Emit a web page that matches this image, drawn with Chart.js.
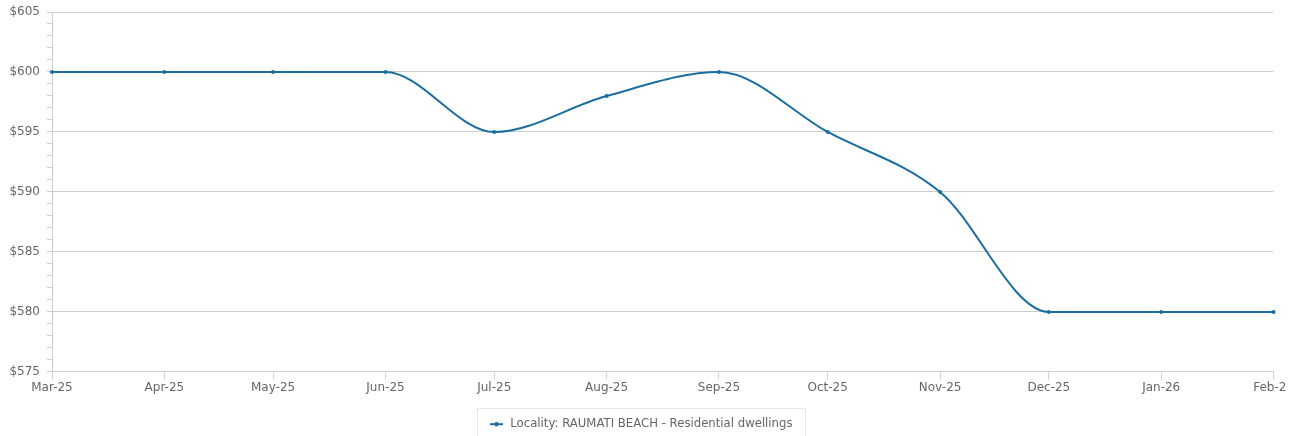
<!DOCTYPE html>
<html>
<head>
<meta charset="utf-8">
<script src="https://cdn.jsdelivr.net/npm/chart.js@4"></script>
<style>
  html, body { margin: 0; padding: 0; background: #fff; }
  #wrap { width: 1287px; height: 436px; overflow: hidden; position: relative; }
</style>
</head>
<body>
<div id="wrap"><canvas id="rentChart" width="1295" height="440" style="width:1295px;height:440px"></canvas></div>
<script>
// Données du graphique
const monthLabels = ['Mar-25', 'Apr-25', 'May-25', 'Jun-25', 'Jul-25', 'Aug-25', 'Sep-25', 'Oct-25', 'Nov-25', 'Dec-25', 'Jan-26', 'Feb-26'];
const monthDates = ['2025-03-01', '2025-04-01', '2025-05-01', '2025-06-01', '2025-07-01', '2025-08-01', '2025-09-01', '2025-10-01', '2025-11-01', '2025-12-01', '2026-01-01', '2026-02-01'];
const rentValues = [600, 600, 600, 600, 595, 598, 600, 595, 590, 580, 580, 580];
const seriesLabel = 'Locality: RAUMATI BEACH - Residential dwellings';
const yMin = 575;
const yMax = 605;

const lineColor = '#1b6e9f';
const textColor = '#666666';

// jours depuis l'epoch, pour un axe proportionnel au temps
const dayNums = monthDates.map(d => Date.parse(d + 'T00:00:00Z') / 86400000);
const points = dayNums.map((x, i) => ({ x: x, y: rentValues[i] }));

// Icône de légende : trait + point
function makeLegendIcon() {
    const c = document.createElement('canvas');
    c.width = 13;
    c.height = 6;
    const g = c.getContext('2d');
    g.strokeStyle = lineColor;
    g.lineWidth = 2;
    g.beginPath();
    g.moveTo(0, 3);
    g.lineTo(13, 3);
    g.stroke();
    g.fillStyle = lineColor;
    g.beginPath();
    g.arc(6.5, 3, 2.2, 0, Math.PI * 2);
    g.fill();
    return c;
}
const legendIcon = makeLegendIcon();

// Cadre autour de la légende
const legendBoxPlugin = {
    id: 'legendBox',
    afterDraw(chart) {
        const lg = chart.legend;
        if (!lg || !lg.legendHitBoxes || !lg.legendHitBoxes.length) return;
        const hb = lg.legendHitBoxes[0];
        const ctx = chart.ctx;
        ctx.save();
        ctx.strokeStyle = '#e6e6e6';
        ctx.lineWidth = 1;
        ctx.strokeRect(Math.round(hb.left - 11) + 0.5, Math.round(hb.top - 10) + 0.5, Math.round(hb.width + 24), 60);
        ctx.restore();
    }
};

Chart.defaults.font.family = '"DejaVu Sans", sans-serif';
Chart.defaults.font.size = 12;
Chart.defaults.color = textColor;

new Chart(document.getElementById('rentChart'), {
    type: 'line',
    data: {
        datasets: [{
            label: seriesLabel,
            data: points,
            borderColor: lineColor,
            backgroundColor: lineColor,
            borderWidth: 2,
            pointRadius: 2,
            pointHoverRadius: 3,
            pointBackgroundColor: lineColor,
            pointBorderWidth: 0,
            cubicInterpolationMode: 'monotone',
            fill: false,
            clip: false
        }]
    },
    options: {
        responsive: false,
        animation: false,
        layout: { padding: { top: 0, left: 0, right: 14, bottom: 0 } },
        scales: {
            x: {
                type: 'linear',
                min: dayNums[0],
                max: dayNums[dayNums.length - 1],
                afterBuildTicks: scale => {
                    scale.ticks = dayNums.map(v => ({ value: v }));
                },
                ticks: {
                    autoSkip: false,
                    maxRotation: 0,
                    padding: 1,
                    color: textColor,
                    callback: (v, i) => monthLabels[i]
                },
                grid: {
                    drawOnChartArea: false,
                    tickLength: 8,
                    tickColor: '#ccd6eb'
                },
                border: { color: '#cccccc' }
            },
            y: {
                min: yMin,
                max: yMax,
                afterFit: scale => {
                    scale.width = 52;
                    scale.paddingTop = 12;
                },
                ticks: {
                    stepSize: 1,
                    autoSkip: false,
                    padding: 7,
                    color: textColor,
                    callback: v => (v % 5 === 0 ? '$' + v : '')
                },
                grid: {
                    tickLength: 5,
                    color: ctx => (ctx.tick && ctx.tick.value % 5 === 0 ? '#cccccc' : 'rgba(0,0,0,0)'),
                    tickColor: '#cccccc'
                },
                border: { color: '#cccccc' }
            }
        },
        plugins: {
            legend: {
                position: 'bottom',
                labels: {
                    usePointStyle: true,
                    pointStyle: legendIcon,
                    pointStyleWidth: 16,
                    color: textColor,
                    font: { size: 11.7 },
                    padding: 22
                }
            },
            tooltip: { enabled: false }
        }
    },
    plugins: [legendBoxPlugin]
});
</script>
</body>
</html>
